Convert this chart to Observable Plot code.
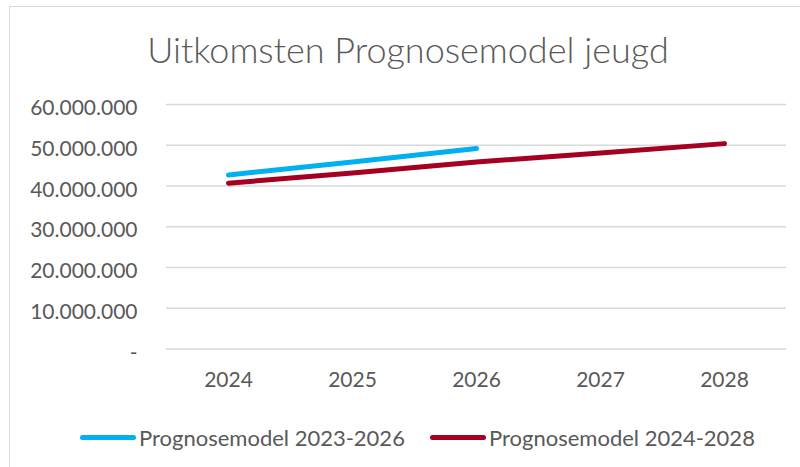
<!DOCTYPE html>
<html>
<head>
<meta charset="utf-8">
<script src="https://cdn.jsdelivr.net/npm/d3@7"></script>
<script src="https://cdn.jsdelivr.net/npm/@observablehq/plot@0.6"></script>
<style>
  html, body { margin: 0; padding: 0; background: #fff; }
  #wrap { position: relative; width: 800px; height: 467px; overflow: hidden; font-family: Lato, "Open Sans", sans-serif; color: #595959; }
  #frame { position: absolute; left: 9px; top: 6px; width: 820px; height: 480px; border: 1.5px solid #d9d9d9; box-sizing: border-box; }
  #title { position: absolute; left: 0; top: 0; width: 800px; height: 80px; text-align: center; font-size: 36px; font-weight: 300; line-height: 1; padding-left: 16px; box-sizing: border-box; }
  #title span { position: relative; top: 31px; }
  #chart { position: absolute; left: 0; top: 80px; }
  .leg { position: absolute; top: 424px; font-size: 22px; white-space: nowrap; display: flex; align-items: center; }
  .sw { display: inline-block; width: 56px; height: 5px; border-radius: 3px; margin-right: 3px; }
</style>
</head>
<body>
<div id="wrap">
  <div id="frame"></div>
  <div id="title"><span>Uitkomsten Prognosemodel jeugd</span></div>
  <div id="chart"></div>
  <div id="legend"></div>
</div>
<script>
const title = "Uitkomsten Prognosemodel jeugd";
const years = ["2024", "2025", "2026", "2027", "2028"];
const seriesNames = ["Prognosemodel 2023-2026", "Prognosemodel 2024-2028"];
const seriesColors = ["#00B0F0", "#A50021"];
const values2023_2026 = [42700000, 45900000, 49200000];
const values2024_2028 = [40700000, 43200000, 45900000, 48100000, 50400000];
const yTicks = [0, 10000000, 20000000, 30000000, 40000000, 50000000, 60000000];

const rows = [
  ...values2023_2026.map((v, i) => ({year: years[i], value: v, series: seriesNames[0]})),
  ...values2024_2028.map((v, i) => ({year: years[i], value: v, series: seriesNames[1]}))
];

const fmt = d => d === 0 ? "-" : d3.format(",")(d).replace(/,/g, ".");

const chart = Plot.plot({
  width: 800,
  height: 320,
  marginTop: 24,
  marginBottom: 51.5,
  marginLeft: 166,
  marginRight: 14,
  style: { fontFamily: "Lato, 'Open Sans', sans-serif", fontSize: "21px", color: "#595959", background: "transparent" },
  x: { type: "point", domain: years, padding: 0.5 },
  y: { domain: [0, 60000000] },
  color: { domain: seriesNames, range: seriesColors },
  marks: [
    Plot.gridY(yTicks, { stroke: "#d9d9d9", strokeOpacity: 1, strokeWidth: 1.5 }),
    Plot.axisY(yTicks, { tickSize: 0, tickPadding: 29, tickFormat: fmt, label: null, dy: 4, fill: "#595959" }),
    Plot.axisX({ tickSize: 0, tickPadding: 23, label: null, fill: "#595959" }),
    Plot.line(rows, { x: "year", y: "value", z: "series", stroke: "series", strokeWidth: 5, strokeLinecap: "round", strokeLinejoin: "round" })
  ]
});
document.getElementById("chart").appendChild(chart);

document.getElementById("title").querySelector("span").textContent = title;

const legend = document.getElementById("legend");
const legLeft = [80, 430];
seriesNames.forEach((name, i) => {
  const d = document.createElement("div");
  d.className = "leg";
  d.style.left = legLeft[i] + "px";
  const sw = document.createElement("span");
  sw.className = "sw";
  sw.style.background = seriesColors[i];
  d.appendChild(sw);
  d.appendChild(document.createTextNode(name));
  legend.appendChild(d);
});
</script>
</body>
</html>
